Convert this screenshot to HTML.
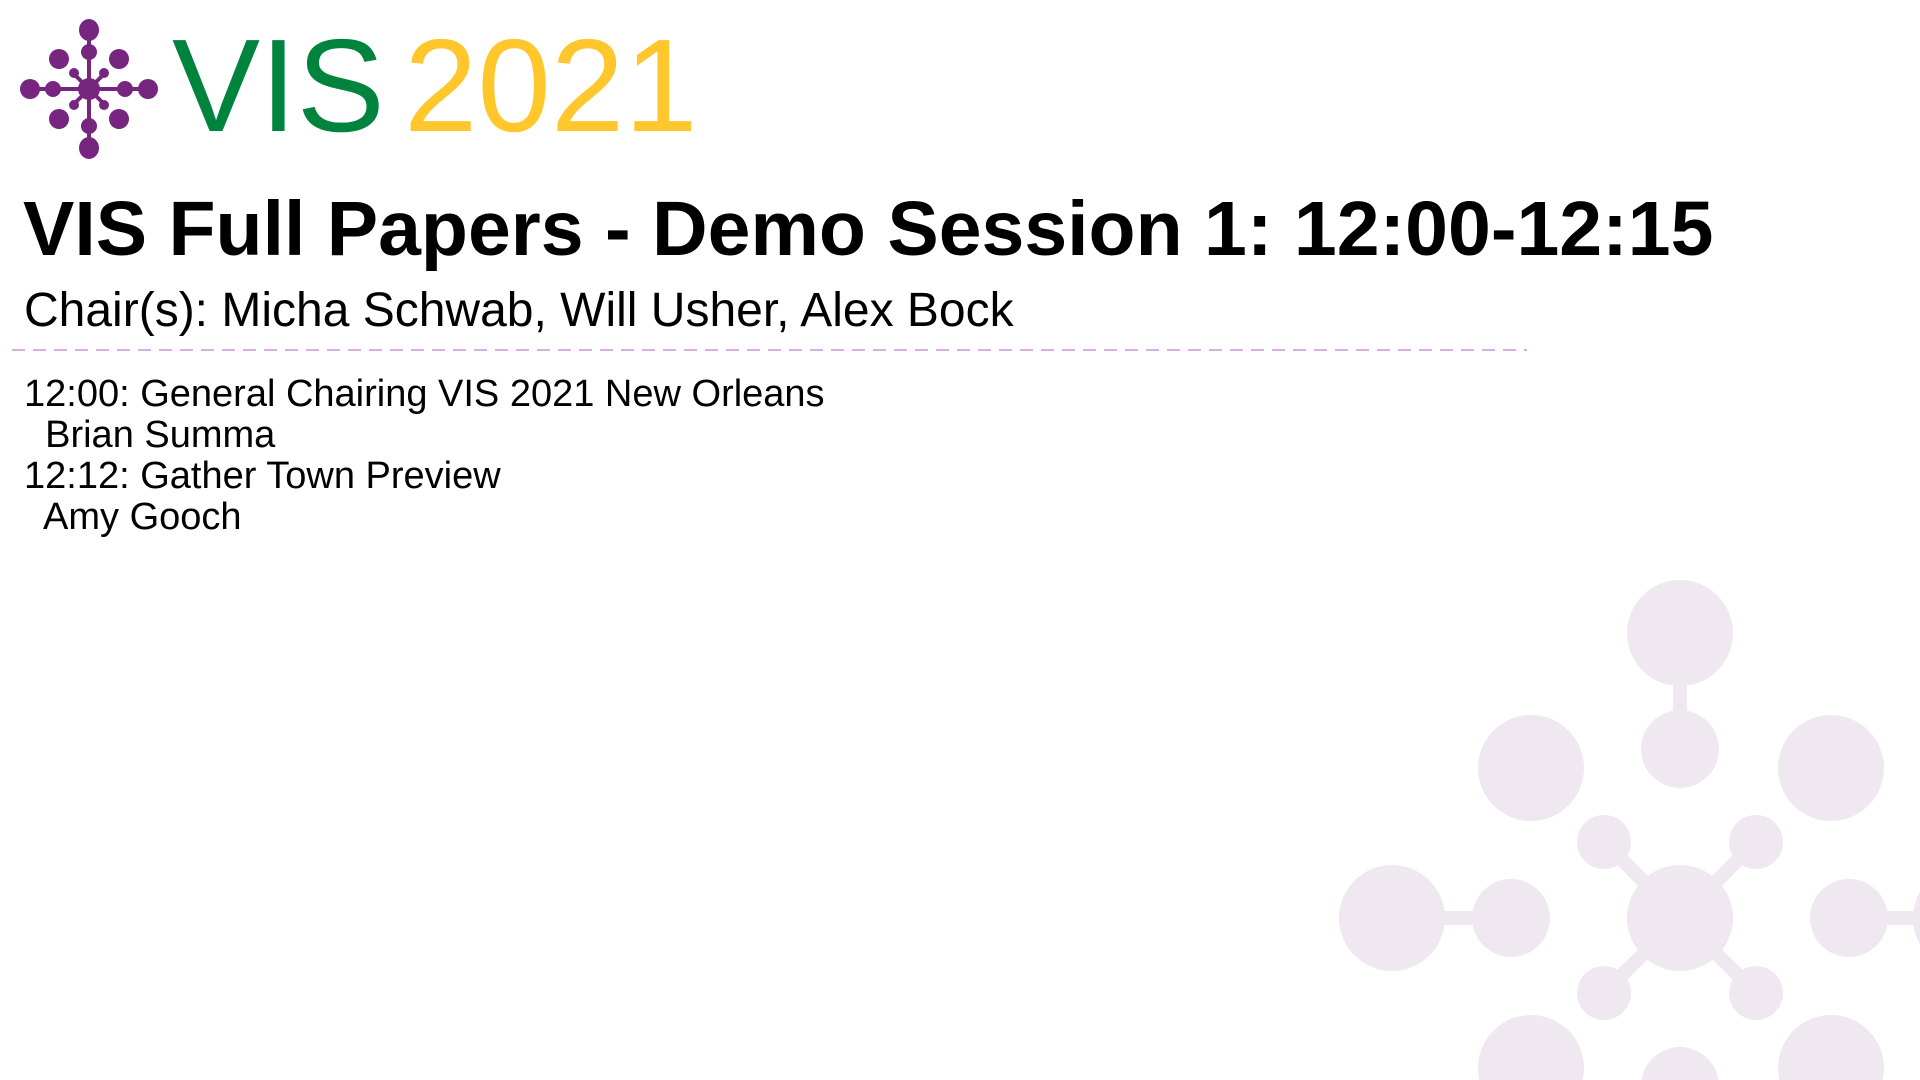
<!DOCTYPE html>
<html><head><meta charset="utf-8"><style>
html,body{margin:0;padding:0;background:#fff;width:1920px;height:1080px;overflow:hidden;position:relative;font-family:"Liberation Sans",sans-serif;}
.t{position:absolute;white-space:pre;color:#000;line-height:1;}
</style></head><body>
<svg width="1920" height="1080" style="position:absolute;left:0;top:0">
<g fill="#efe8f1" stroke="#efe8f1">
<g stroke-width="14">
<line x1="1680" y1="633" x2="1680" y2="749"/>
<line x1="1392" y1="918" x2="1511" y2="918"/>
<line x1="1849" y1="918" x2="1960" y2="918"/>
<line x1="1604" y1="842" x2="1756" y2="993"/>
<line x1="1756" y1="842" x2="1604" y2="993"/>
</g>
<g stroke="none">
<circle cx="1680" cy="918" r="53"/>
<circle cx="1680" cy="633" r="53"/>
<circle cx="1680" cy="749" r="39"/>
<circle cx="1531" cy="768" r="53"/>
<circle cx="1831" cy="768" r="53"/>
<circle cx="1392" cy="918" r="53"/>
<circle cx="1511" cy="918" r="39"/>
<circle cx="1849" cy="918" r="39"/>
<circle cx="1966" cy="918" r="53"/>
<circle cx="1604" cy="842" r="27"/>
<circle cx="1756" cy="842" r="27"/>
<circle cx="1604" cy="993" r="27"/>
<circle cx="1756" cy="993" r="27"/>
<circle cx="1531" cy="1068" r="53"/>
<circle cx="1831" cy="1068" r="53"/>
<circle cx="1680" cy="1086" r="39"/>
</g></g>
<g fill="#76267f" stroke="#76267f">
<g stroke-width="4">
<line x1="89" y1="30" x2="89" y2="148"/>
<line x1="30" y1="89" x2="148" y2="89"/>
<line x1="72" y1="72" x2="106" y2="106"/>
<line x1="106" y1="72" x2="72" y2="106"/>
</g>
<g stroke="none">
<circle cx="89" cy="89" r="11"/>
<ellipse cx="89" cy="30" rx="10" ry="11"/>
<ellipse cx="89" cy="52" rx="8" ry="8"/>
<ellipse cx="89" cy="148" rx="10" ry="11"/>
<ellipse cx="89" cy="126" rx="8" ry="8"/>
<ellipse cx="30" cy="89" rx="10" ry="10"/>
<ellipse cx="53" cy="89" rx="8" ry="8"/>
<ellipse cx="148" cy="89" rx="10" ry="10"/>
<ellipse cx="125" cy="89" rx="8" ry="8"/>
<circle cx="59" cy="59" r="10"/>
<circle cx="119" cy="59" r="10"/>
<circle cx="59" cy="119" r="10"/>
<circle cx="119" cy="119" r="10"/>
<circle cx="74" cy="73" r="5"/>
<circle cx="104" cy="73" r="5"/>
<circle cx="74" cy="105" r="5"/>
<circle cx="104" cy="105" r="5"/>
</g></g>
<line x1="12" y1="350" x2="1527" y2="350" stroke="#d6aee0" stroke-width="2" stroke-dasharray="13,8"/>
</svg>
<div class="t" style="left:172px;top:20px;font-size:132px;color:#00843d;">VIS</div>
<div class="t" style="left:404px;top:20px;font-size:132px;color:#ffc72c;">2021</div>
<div class="t" style="left:23px;top:191px;font-size:77px;font-weight:bold;">VIS Full Papers - Demo Session 1: 12:00-12:15</div>
<div class="t" style="left:24px;top:287px;font-size:48px;">Chair(s): Micha Schwab, Will Usher, Alex Bock</div>
<div class="t" style="left:24px;top:374px;font-size:38px;line-height:41px;">12:00: General Chairing VIS 2021 New Orleans
  Brian Summa
12:12: Gather Town Preview
  Amy Gooch</div>
</body></html>
